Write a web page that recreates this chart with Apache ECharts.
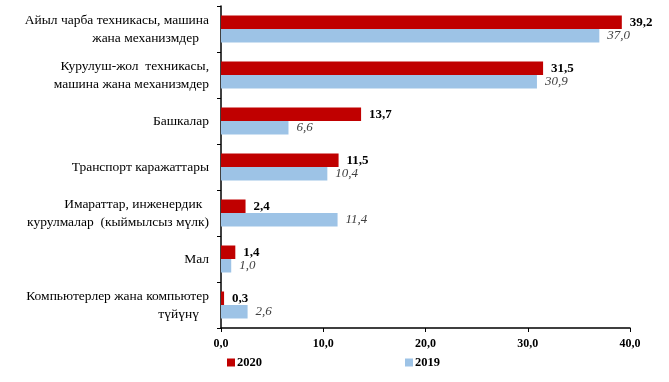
<!DOCTYPE html>
<html><head><meta charset="utf-8">
<script src="https://cdn.jsdelivr.net/npm/echarts@6/dist/echarts.min.js"></script>
<style>html,body{margin:0;padding:0;background:#fff}#c{width:669px;height:382px}</style>
</head><body><div id="c"></div>
<script>
const categories = [
  "Айыл чарба техникасы, машина\nжана механизмдер   ",
  "Курулуш-жол  техникасы,\nмашина жана механизмдер",
  "Башкалар",
  "Транспорт каражаттары",
  "Имараттар, инженердик  \nкурулмалар  (кыймылсыз мүлк)",
  "Мал",
  "Компьютерлер жана компьютер\nтүйүнү   "
];
const values2020 = [39.2, 31.5, 13.7, 11.5, 2.4, 1.4, 0.3];
const values2019 = [37.0, 30.9, 6.6, 10.4, 11.4, 1.0, 2.6];
const seriesNames = ["2020", "2019"];
const xTicks = [0, 10, 20, 30, 40];

const fmt = v => Number(v).toFixed(1).replace('.', ',');
const chart = echarts.init(document.getElementById('c'), null, {renderer: 'canvas'});
chart.setOption({
  animation: false,
  textStyle: {fontFamily: 'Liberation Serif'},
  grid: {left: 221, right: 39, top: 6, bottom: 54, containLabel: false},
  legend: {
    data: seriesNames,
    left: 222, bottom: 8,
    itemWidth: 8, itemHeight: 8, itemGap: 143,
    icon: 'rect',
    textStyle: {fontFamily: 'Liberation Serif', fontWeight: 'bold', fontSize: 12.5, color: '#000', padding: [0,0,0,-3]}
  },
  xAxis: {
    type: 'value', min: xTicks[0], max: xTicks[xTicks.length-1], interval: 10,
    axisLine: {show: true, lineStyle: {color: '#000', width: 1.5}},
    axisTick: {show: true, length: 4, lineStyle: {color: '#000'}},
    splitLine: {show: false},
    axisLabel: {formatter: fmt, fontFamily: 'Liberation Serif', fontWeight: 'bold', fontSize: 12, color: '#000', margin: 10}
  },
  yAxis: {
    type: 'category', data: categories, inverse: true,
    axisLine: {show: true, lineStyle: {color: '#000', width: 1.5}},
    axisTick: {show: true, length: 4, lineStyle: {color: '#000'}},
    axisLabel: {fontFamily: 'Liberation Serif', fontSize: 13.5, color: '#000', margin: 12, align: 'right', lineHeight: 18}
  },
  series: [
    {
      name: seriesNames[0], type: 'bar', data: values2020,
      barWidth: 13.5, barGap: '0%',
      itemStyle: {color: '#C00000'},
      label: {show: true, position: 'right', distance: 8, formatter: p => fmt(p.value),
        fontFamily: 'Liberation Serif', fontWeight: 'bold', fontSize: 13, color: '#000'}
    },
    {
      name: seriesNames[1], type: 'bar', data: values2019,
      barWidth: 13.5, barGap: '0%',
      itemStyle: {color: '#9DC3E6'},
      label: {show: true, position: 'right', distance: 8, formatter: p => fmt(p.value),
        fontFamily: 'Liberation Serif', fontStyle: 'italic', fontSize: 13, color: '#404040'}
    }
  ]
});
</script></body></html>
